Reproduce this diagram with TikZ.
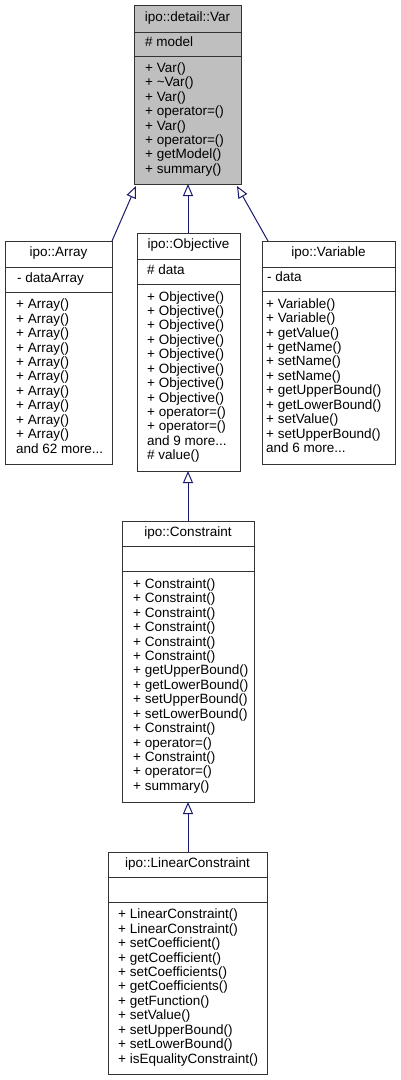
\documentclass[tikz,border=0pt]{standalone}
\usepackage{fontspec}
\setmainfont{Liberation Sans}
\usetikzlibrary{arrows.meta}
\definecolor{edgeblue}{HTML}{191970}
\definecolor{curfill}{HTML}{BFBFBF}
\definecolor{boxline}{HTML}{333333}
\newcommand{\dfont}{\fontsize{13.5}{14.43}\selectfont}
\newcommand{\rw}[1]{\strut #1}
\tikzset{
  cls/.style={draw=boxline, line width=1pt, inner sep=0pt, outer sep=0pt, anchor=north west},
  sepline/.style={draw=boxline, line width=1pt},
  txt/.style={inner sep=0pt, anchor=west, align=left, font=\dfont},
  ttl/.style={inner sep=0pt, anchor=center, font=\dfont},
  inh/.style={draw=edgeblue, line width=1pt, -{Triangle[open, length=12pt, width=10pt]}},
}
\begin{document}
\begin{tikzpicture}[x=1pt,y=-1pt]
\useasboundingbox (0,0) rectangle (401,1080);
\fill[white] (0,0) rectangle (401,1080);

% ipo::detail::Var
\node[cls, fill=curfill, minimum width=107pt, minimum height=179pt] (var) at (134,5) {};
\draw[sepline] (134,32) -- (241,32);
\draw[sepline] (134,56) -- (241,56);
\node[ttl] (varT) at (187.5,18.5) {\rw{ipo::detail::Var}};
\node[txt] (varA) at (145,44) {\rw{\# model}};
\node[txt] (varM) at (145,120) {\rw{+ Var()}\\\rw{+ \textasciitilde Var()}\\\rw{+ Var()}\\\rw{+ operator=()}\\\rw{+ Var()}\\\rw{+ operator=()}\\\rw{+ getModel()}\\\rw{+ summary()}};

% ipo::Array
\node[cls, fill=white, minimum width=107pt, minimum height=223pt] (arr) at (5,241) {};
\draw[sepline] (5,267) -- (112,267);
\draw[sepline] (5,292) -- (112,292);
\node[ttl] (arrT) at (58.5,254) {\rw{ipo::Array}};
\node[txt] (arrA) at (17,279.5) {\rw{- dataArray}};
\node[txt] (arrM) at (16,378) {\rw{+ Array()}\\\rw{+ Array()}\\\rw{+ Array()}\\\rw{+ Array()}\\\rw{+ Array()}\\\rw{+ Array()}\\\rw{+ Array()}\\\rw{+ Array()}\\\rw{+ Array()}\\\rw{+ Array()}\\\rw{and 62 more...}};

% ipo::Objective
\node[cls, fill=white, minimum width=103pt, minimum height=238pt] (obj) at (137,233) {};
\draw[sepline] (137,259) -- (240,259);
\draw[sepline] (137,284) -- (240,284);
\node[ttl] (objT) at (188.5,246) {\rw{ipo::Objective}};
\node[txt] (objA) at (147,271.5) {\rw{\# data}};
\node[txt] (objM) at (147,377.5) {\rw{+ Objective()}\\\rw{+ Objective()}\\\rw{+ Objective()}\\\rw{+ Objective()}\\\rw{+ Objective()}\\\rw{+ Objective()}\\\rw{+ Objective()}\\\rw{+ Objective()}\\\rw{+ operator=()}\\\rw{+ operator=()}\\\rw{and 9 more...}\\\rw{\# value()}};

% ipo::Variable
\node[cls, fill=white, minimum width=133pt, minimum height=223pt] (vbl) at (262,241) {};
\draw[sepline] (262,267) -- (395,267);
\draw[sepline] (262,291) -- (395,291);
\node[ttl] (vblT) at (328.5,254) {\rw{ipo::Variable}};
\node[txt] (vblA) at (267,279) {\rw{- data}};
\node[txt] (vblM) at (266,377.5) {\rw{+ Variable()}\\\rw{+ Variable()}\\\rw{+ getValue()}\\\rw{+ getName()}\\\rw{+ setName()}\\\rw{+ setName()}\\\rw{+ getUpperBound()}\\\rw{+ getLowerBound()}\\\rw{+ setValue()}\\\rw{+ setUpperBound()}\\\rw{and 6 more...}};

% ipo::Constraint
\node[cls, fill=white, minimum width=132pt, minimum height=281pt] (con) at (122,521) {};
\draw[sepline] (122,546) -- (254,546);
\draw[sepline] (122,571) -- (254,571);
\node[ttl] (conT) at (188,533.5) {\rw{ipo::Constraint}};
\node[txt] (conM) at (133,686.5) {\rw{+ Constraint()}\\\rw{+ Constraint()}\\\rw{+ Constraint()}\\\rw{+ Constraint()}\\\rw{+ Constraint()}\\\rw{+ Constraint()}\\\rw{+ getUpperBound()}\\\rw{+ getLowerBound()}\\\rw{+ setUpperBound()}\\\rw{+ setLowerBound()}\\\rw{+ Constraint()}\\\rw{+ operator=()}\\\rw{+ Constraint()}\\\rw{+ operator=()}\\\rw{+ summary()}};

% ipo::LinearConstraint
\node[cls, fill=white, minimum width=159pt, minimum height=222pt] (lin) at (108,852) {};
\draw[sepline] (108,877) -- (267,877);
\draw[sepline] (108,902) -- (267,902);
\node[ttl] (linT) at (187.5,864.5) {\rw{ipo::LinearConstraint}};
\node[txt] (linM) at (118,988) {\rw{+ LinearConstraint()}\\\rw{+ LinearConstraint()}\\\rw{+ setCoefficient()}\\\rw{+ getCoefficient()}\\\rw{+ setCoefficients()}\\\rw{+ getCoefficients()}\\\rw{+ getFunction()}\\\rw{+ setValue()}\\\rw{+ setUpperBound()}\\\rw{+ setLowerBound()}\\\rw{+ isEqualityConstraint()}};

% inheritance connectors
\coordinate (tipA) at (136,186);
\coordinate (tipO) at (188,184);
\coordinate (tipV) at (237,186);
\coordinate (srcV) at (268,241);
\draw[inh] (arr.north east) -- (tipA);
\draw[inh] (obj.north -| tipO) -- (tipO);
\draw[inh] (srcV) -- (tipV);
\draw[inh] (con.north) -- (con.north |- obj.south);
\draw[inh] (lin.north -| con.north) -- (con.south);
\end{tikzpicture}
\end{document}
